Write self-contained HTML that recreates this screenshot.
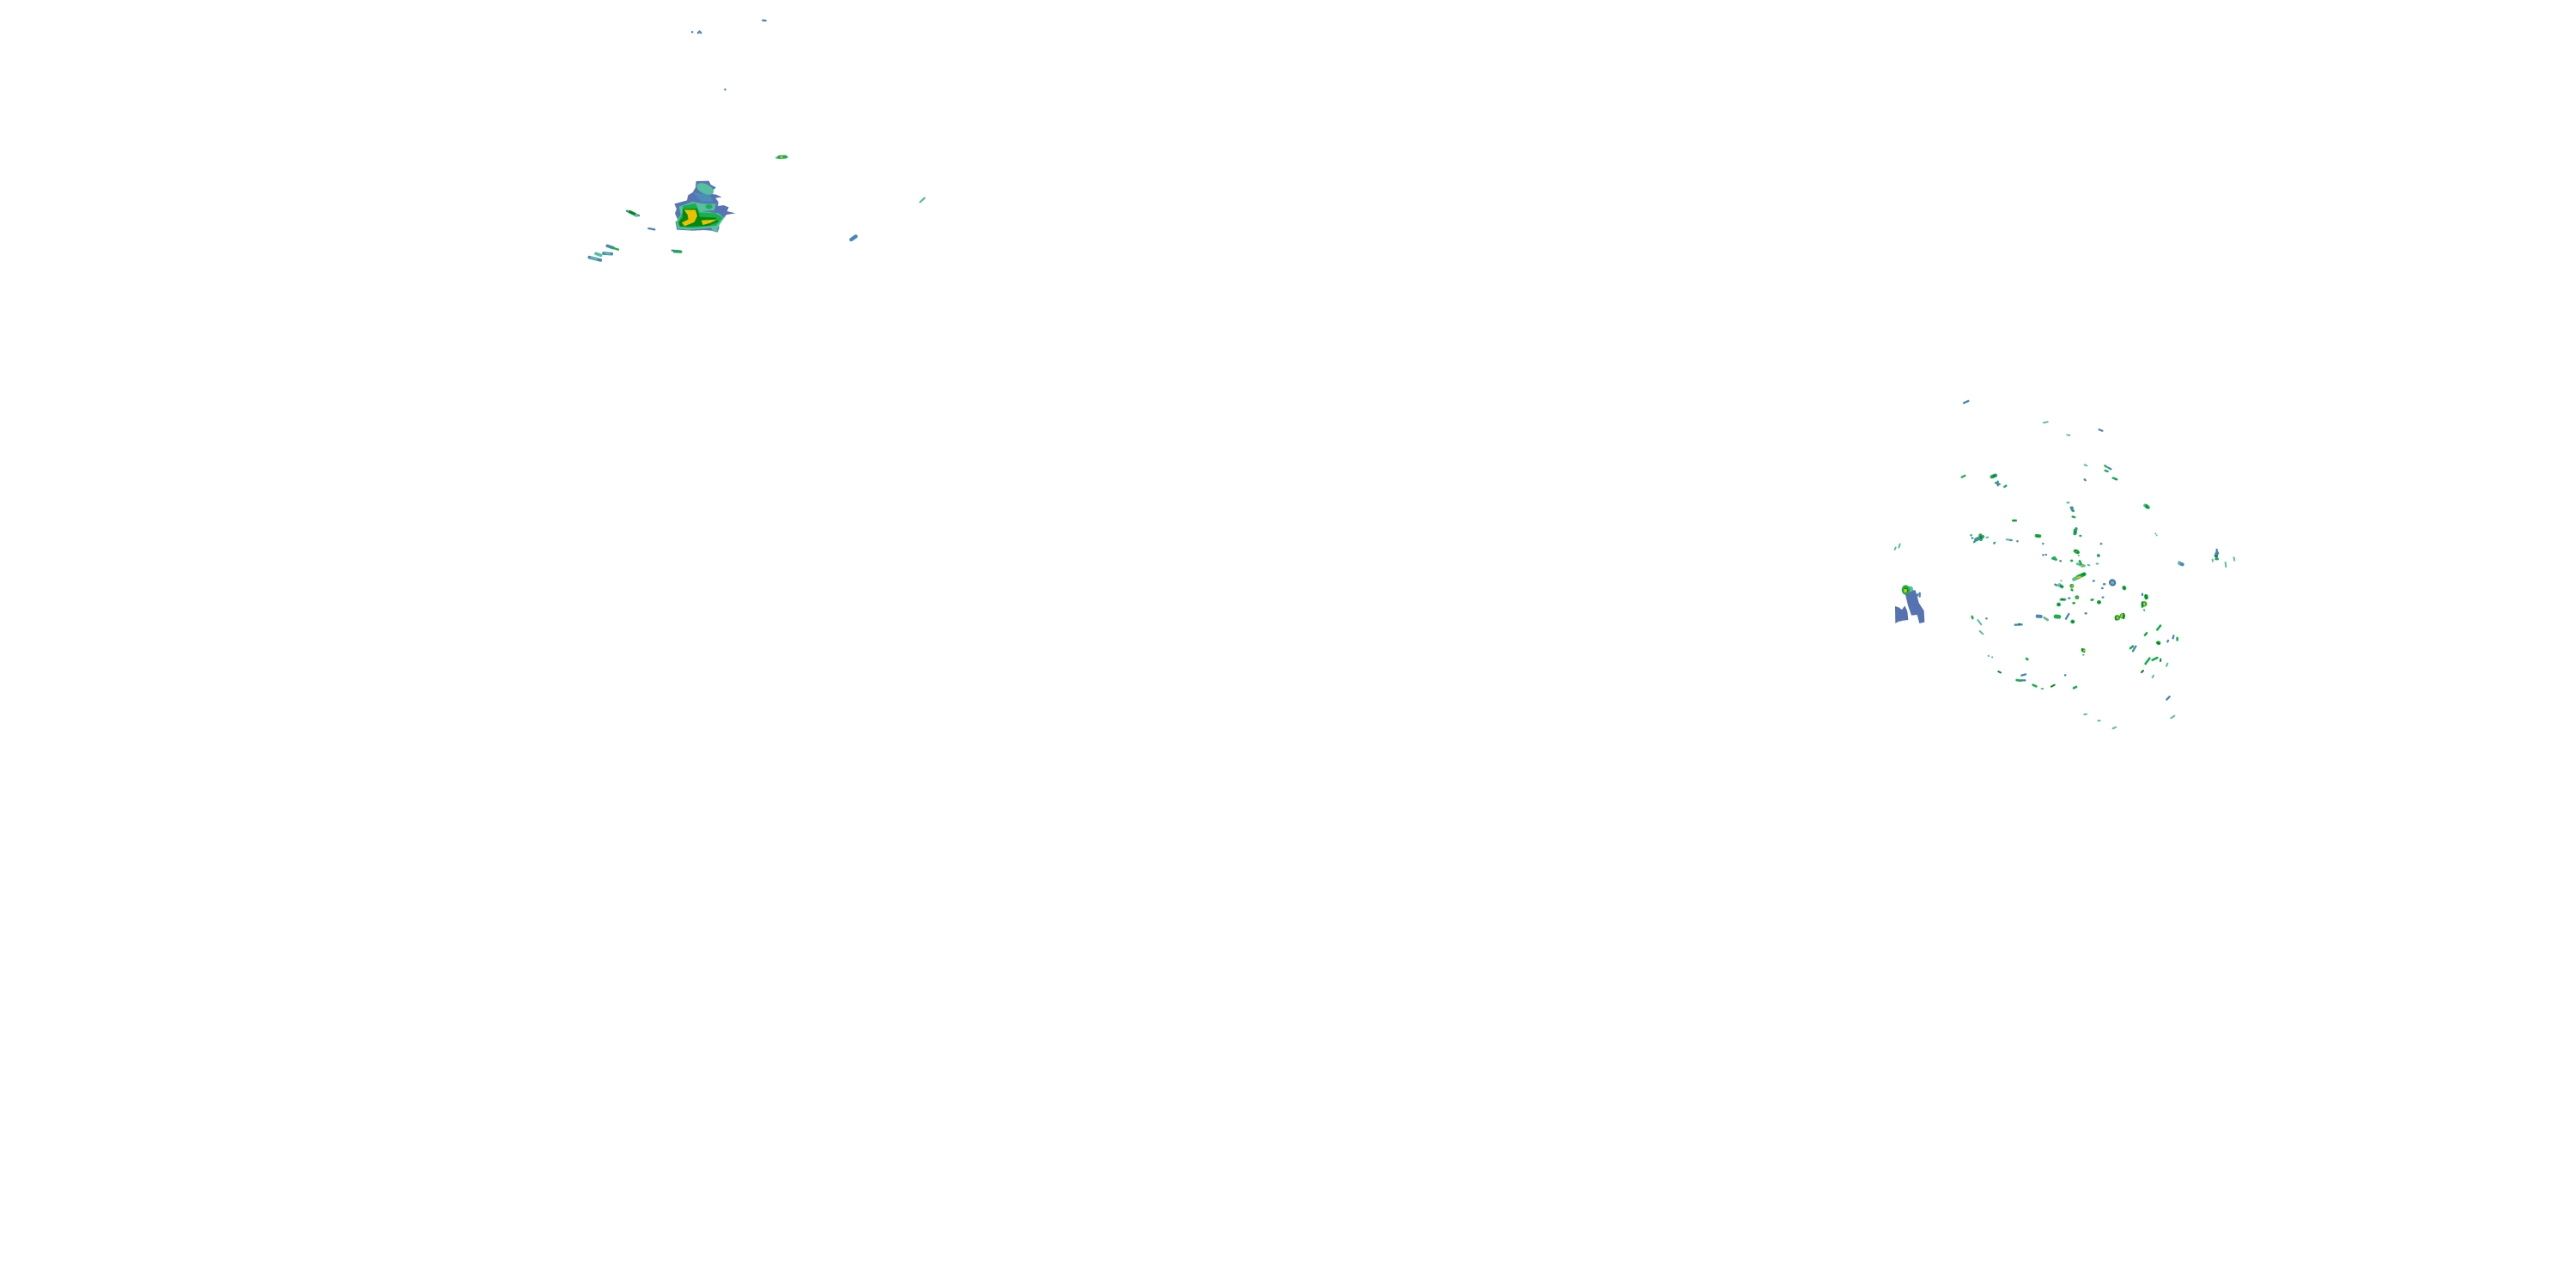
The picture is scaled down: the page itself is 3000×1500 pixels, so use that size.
<!DOCTYPE html>
<html lang="en">
<head>
<meta charset="utf-8">
<title>Radar reflectivity</title>
<style>
html,body{margin:0;padding:0;background:#fff;width:3000px;height:1500px;overflow:hidden}
svg{display:block}
path{fill:none;stroke-linecap:round}
</style>
</head>
<body>
<svg width="3000" height="1500" viewBox="0 0 3000 1500" xmlns="http://www.w3.org/2000/svg">
<rect width="3000" height="1500" fill="#fff"/>

<!-- Left cluster -->
<g transform="translate(660,0) scale(.33333)">
  <polygon fill="#5874b4" points="452,633 497,632 503,645 522,655 507,668 503,677 522,680 542,689 520,692 530,706 528,720 548,717 566,724 560,738 590,745 558,750 545,768 530,780 533,796 527,812 505,806 480,804 440,806 385,803 380,775 388,768 378,745 384,730 376,712 420,700 424,682 440,672 450,655"/>
  <ellipse cx="484" cy="660" rx="32" ry="17" fill="#55bf9f" transform="rotate(25 484 660)"/>
  <polygon fill="#4a8fb8" points="442,672 500,682 512,704 470,704"/>
  <polygon fill="#55bf9f" points="392,722 440,705 480,712 522,712 515,735 470,738 530,745 550,760 528,795 526,810 510,808 505,796 430,803 388,800 383,775 398,750"/>
  <polygon fill="#18b04a" points="405,720 450,710 464,742 520,745 546,760 522,788 440,796 395,793 388,778 398,758 406,740"/>
  <polygon fill="#008a12" points="405,730 455,728 465,758 520,760 530,775 495,789 420,792 395,790 392,775 405,760"/>
  <polygon fill="#f0c000" points="410,733 450,733 456,755 446,776 412,790 402,778 425,766 422,750"/>
  <polygon fill="#f0c000" points="470,770 526,767 502,779 476,786"/>
  <ellipse cx="497" cy="722" rx="12" ry="8" fill="#18b04a"/>
  <path stroke="#4a86b8" stroke-width="7" d="M685 71L695 72M438 112L439 112M459 115L464 110L469 115M553 313L554 313"/>
  <path stroke="#55bf9f" stroke-width="7" d="M733 551L770 549M1235 706L1250 692"/>
  <path stroke="#18b04a" stroke-width="12" d="M742 549L764 548"/>
  <path stroke="#f0c000" stroke-width="6" d="M749 549L752 549"/>
  <path stroke="#4a86b8" stroke-width="13" d="M994 837L1010 826"/>
  <path stroke="#4f6cb2" stroke-width="7" d="M210 737L252 753"/>
  <path stroke="#55bf9f" stroke-width="12" d="M220 740L244 752"/>
  <path stroke="#008a12" stroke-width="9" d="M220 740L236 747"/>
  <path stroke="#4a86b8" stroke-width="7" d="M286 798L307 802"/>
  <path stroke="#4a86b8" stroke-width="11" d="M142 859L162 866"/>
  <path stroke="#18b04a" stroke-width="7" d="M158 865L180 872"/>
  <path stroke="#55bf9f" stroke-width="11" d="M102 886L119 892"/>
  <path stroke="#4a86b8" stroke-width="11" d="M129 885L157 887"/>
  <path stroke="#55bf9f" stroke-width="7" d="M137 885L150 887"/>
  <path stroke="#4a86b8" stroke-width="11" d="M79 899L118 909"/>
  <path stroke="#55bf9f" stroke-width="8" d="M86 900L104 906"/>
  <path stroke="#4f6cb2" stroke-width="6" d="M368 875L398 877"/>
  <path stroke="#18b04a" stroke-width="9" d="M376 879L399 880"/>
</g>

<!-- Right cluster: upper -->
<g transform="translate(2190,450) scale(.33333)">
  <path stroke="#4a86b8" stroke-width="7" d="M291 58L307 51M764 151L775 155M796 284L805 289M713 325L716 328M665 423L670 432M478 541L479 541M568 549L568 550M770 550L772 550M568 589L569 589M578 588L579 588M1175 570L1175 600M322 530L320 530M820 324L826 325M452 537L458 537M402 337L416 342M410 332L410 346"/>
  <path stroke="#55bf9f" stroke-width="6" d="M570 127L584 124M652 169L653 169M658 171L661 171M713 274L721 277M652 406L659 406M961 514L961 514M965 520L965 520M50 570L53 563M64 563L68 551M1234 598L1235 598M692 591L693 591M370 528L376 527M440 535L452 536"/>
  <path stroke="#4a86b8" stroke-width="13" d="M334 535L357 525M389 316L402 311M1172 592L1176 582"/>
  <path stroke="#4a86b8" stroke-width="10" d="M669 424L670 430M684 497L678 515"/>
  <path stroke="#4a86b8" stroke-width="11" d="M761 591L762 591"/>
  <path stroke="#55bf9f" stroke-width="15" d="M685 577L686 577"/>
  <path stroke="#55bf9f" stroke-width="13" d="M925 416L936 423"/>
  <path stroke="#18b04a" stroke-width="7" d="M784 277L790 281M785 294L794 297M812 320L822 323M284 317L295 312M405 337L408 339M433 351L439 347M671 435L675 435M671 455L679 457M316 520L317 520M327 544L331 540M397 548L399 546M697 522L700 522M605 598L610 598M462 469L474 469M762 591L763 591"/>
  <path stroke="#18b04a" stroke-width="12" d="M680 503L680 513M349 520L351 534M930 418L932 422M392 315L399 312M545 522L556 523M680 575L690 580"/>
  <path stroke="#008a12" stroke-width="6" d="M394 314L398 312M350 525L352 529M929 419L932 421M467 468L469 468M550 523L552 523M681 508L681 510M684 573L688 580M1172 593L1175 593"/>
  <path stroke="#f0c000" stroke-width="3" d="M685 577L686 578"/>
</g>

<!-- Right cluster: lower -->
<g transform="translate(2190,650) scale(.33333)">
  <polygon fill="#5572b2" points="51,168 64,172 75,180 85,166 94,186 97,216 80,218 62,222 52,228"/>
  <polygon fill="#5572b2" points="84,112 122,112 128,132 134,156 152,184 154,224 136,228 128,198 108,200 96,165 88,132"/>
  <ellipse cx="104" cy="108" rx="10" ry="10" fill="#55bf9f"/>
  <ellipse cx="88" cy="111" rx="14" ry="17" fill="#18b04a"/>
  <ellipse cx="88" cy="113" rx="8" ry="9" fill="#008a12"/>
  <rect x="82" y="108" width="10" height="12" fill="#f0c000"/>
  <path stroke="#4a86b8" stroke-width="7" d="M128 131L130 127M137 122L137 134M628 10L630 10M744 80L746 79M610 92L616 95M780 91L784 91M774 105L776 105M776 137L778 137M658 140L661 140M915 125L915 129M648 212L658 195M716 193L719 193M470 233L494 232M370 211L371 211M1003 292L1005 288M1022 280L1024 271M1000 494L1010 484M645 409L646 409M882 325L892 308M493 410L507 406M492 427L505 427"/>
  <path stroke="#4a86b8" stroke-width="12" d="M1045 18L1055 22M548 203L560 204"/>
  <path stroke="#4f6cb2" stroke-width="24" d="M810 85L811 86"/>
  <path stroke="#55bf9f" stroke-width="12" d="M810 86L811 86"/>
  <path stroke="#55bf9f" stroke-width="6" d="M1043 12L1045 22M1205 15L1207 30M1236 2L1237 8M1160 5L1161 11M725 24L730 25M755 20L760 19M631 79L632 79M340 216L352 232M347 255L358 265M377 341L378 342M390 346L391 346M708 338L710 338M921 180L922 183M999 377L1003 368M950 417L954 410M563 456L568 456M712 546L720 545M760 568L767 568M812 595L822 591M1015 559L1027 551"/>
  <path stroke="#55bf9f" stroke-width="13" d="M676 74L695 65M625 94L634 100"/>
  <path stroke="#55bf9f" stroke-width="9" d="M688 20L712 27M630 145L645 144M915 155L915 170"/>
  <path stroke="#18b04a" stroke-width="8" d="M601 1L614 5M667 9L669 9M668 110L670 112M674 157L677 157M737 146L742 145M320 204L322 210M618 205L620 205M967 250L978 236M924 269L930 262M1037 279L1037 286M873 315L882 308M926 369L940 350M950 356L967 348M510 351L514 354M476 426L490 428M533 443L544 448M675 454L684 450M1172 3L1178 3M696 10L704 28"/>
  <path stroke="#18b04a" stroke-width="14" d="M690 66L712 56M851 103L852 105M686 137L687 137M668 97L669 97M622 162L623 162M763 154L764 154M928 133L929 138M612 204L624 205M671 222L672 222M708 322L709 322M971 296L972 296"/>
  <path stroke="#18b04a" stroke-width="19" d="M921 160L922 160M827 208L828 208M845 202L846 202"/>
  <path stroke="#008a12" stroke-width="6" d="M630 97L636 100M668 96L670 100M851 103L853 106M622 162L624 163M763 154L765 155M927 130L929 140M671 222L673 223M979 353L978 360M912 399L918 393M412 396L420 400M597 449L608 443M484 230L486 231M706 58L712 56M916 155L915 168M824 203L823 215M850 195L850 210M704 318L712 327M966 295L975 299M632 143L642 146"/>
  <path stroke="#f0c000" stroke-width="6" d="M688 68L698 66M703 26L704 26M921 158L922 163M827 206L828 210M844 198L842 205M711 323L712 323M669 97L670 97"/>
  <path stroke="#f08000" stroke-width="5" d="M686 138L687 138"/>
  <path stroke="#55bf9f" stroke-width="8" d="M572 208L584 216"/>
  <path stroke="#f08000" stroke-width="4" d="M578 212L579 213"/>
</g>
</svg>
</body>
</html>
